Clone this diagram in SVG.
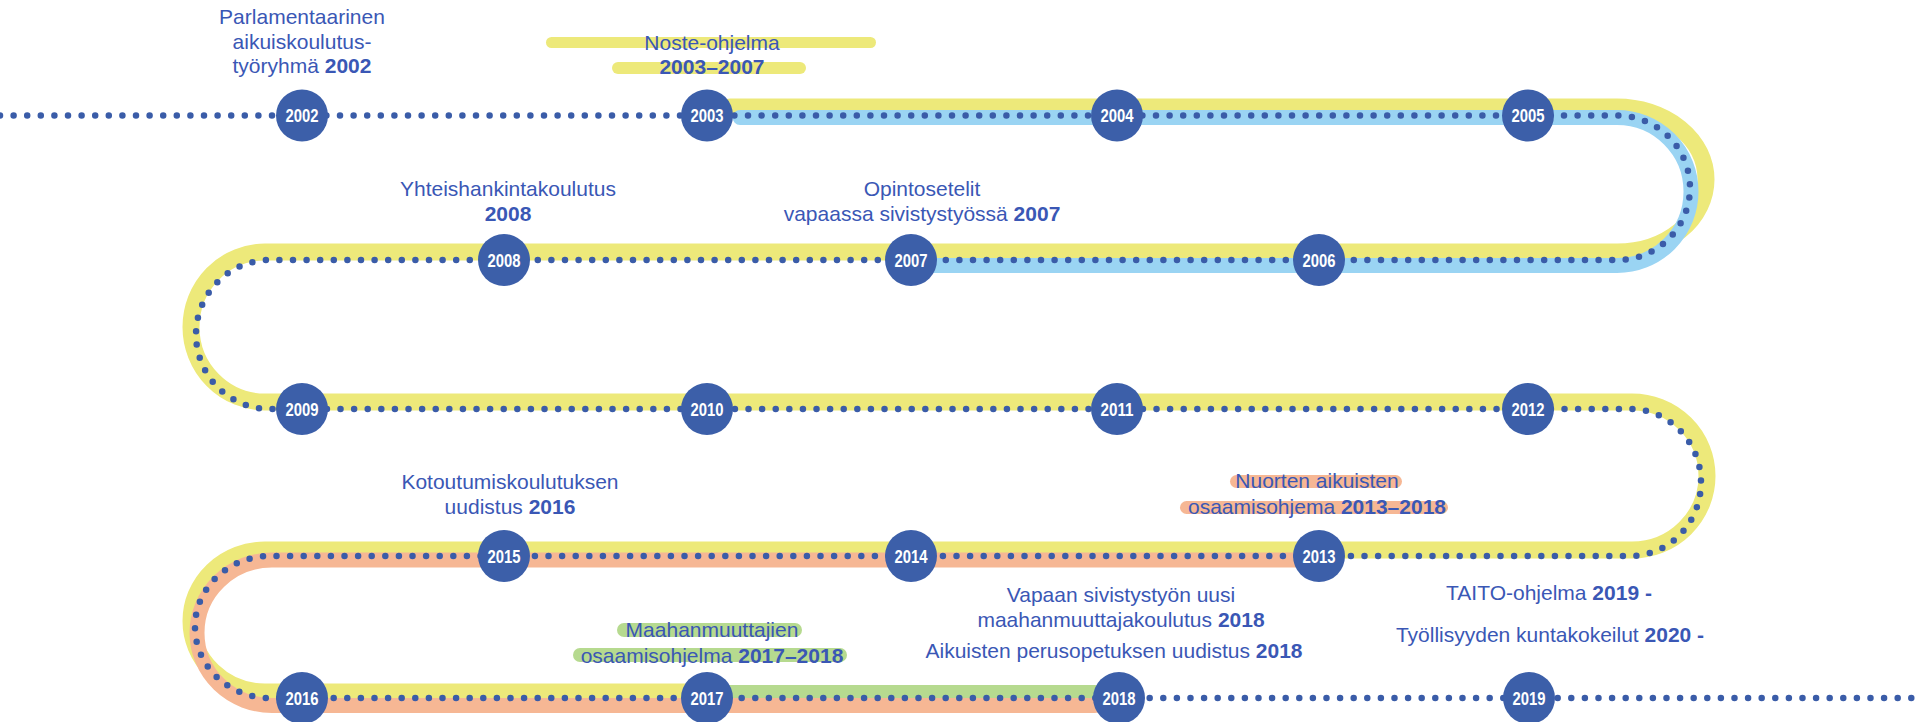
<svg xmlns="http://www.w3.org/2000/svg" width="1915" height="722" viewBox="0 0 1915 722">
<style>
.band{fill:none;stroke-linecap:round;stroke-linejoin:round}
.yel{stroke:#ede97a;stroke-width:17}
.blu{stroke:#9ad4f3;stroke-width:15}
.org{stroke:#f6b794;stroke-width:15}
.grn{stroke:#b6da8f;stroke-width:14}
.dots{fill:none;stroke:#3a5ca8;stroke-width:6.5;stroke-linecap:round;stroke-dasharray:0 13.6}
.node circle{fill:#3c5fa9}
.node text{fill:#ffffff;font-family:"Liberation Sans",Arial,sans-serif;font-weight:bold;font-size:18px;text-anchor:middle}
.lbl{fill:#3a57b5;font-family:"Liberation Sans",Arial,sans-serif;font-size:21px;text-anchor:middle}
.b{font-weight:bold}
.hy{fill:#ede97a}
.ho{fill:#f6b794}
.hg{fill:#b6da8f}
</style>
<rect width="1915" height="722" fill="#ffffff"/>
<g id="connectors">
<path class="band yel" d="M730 107 H1617 A89 72.5 0 0 1 1617 252 H265 A74 75 0 0 0 265 402 H1632 A75 74 0 0 1 1632 550 H265 A74 71 0 0 0 265 692 H708"/>
<path class="band grn" d="M708 692 H1095"/>
<path class="band blu" d="M740 117.5 H1617 A74 74 0 0 1 1617 265.5 H930"/>
<path class="band org" d="M1305 560 H272 A75 72.75 0 0 0 272 705.5 H1095"/>
<path class="dots" d="M0 115.5 H1617 A73 72.25 0 0 1 1617 260 H270 A74 74.5 0 0 0 270 409 H1630 A71 73.5 0 0 1 1630 556 H270 A75 71 0 0 0 270 698 H1915"/>
</g>
<g id="n2002" class="node"><circle cx="302" cy="115.5" r="26"/><text x="302" y="122" textLength="33" lengthAdjust="spacingAndGlyphs">2002</text></g>
<g id="n2003" class="node"><circle cx="707" cy="115.5" r="26"/><text x="707" y="122" textLength="33" lengthAdjust="spacingAndGlyphs">2003</text></g>
<g id="n2004" class="node"><circle cx="1117" cy="115.5" r="26"/><text x="1117" y="122" textLength="33" lengthAdjust="spacingAndGlyphs">2004</text></g>
<g id="n2005" class="node"><circle cx="1528" cy="115.5" r="26"/><text x="1528" y="122" textLength="33" lengthAdjust="spacingAndGlyphs">2005</text></g>
<g id="n2006" class="node"><circle cx="1319" cy="260" r="26"/><text x="1319" y="266.5" textLength="33" lengthAdjust="spacingAndGlyphs">2006</text></g>
<g id="n2007" class="node"><circle cx="911" cy="260" r="26"/><text x="911" y="266.5" textLength="33" lengthAdjust="spacingAndGlyphs">2007</text></g>
<g id="n2008" class="node"><circle cx="504" cy="260" r="26"/><text x="504" y="266.5" textLength="33" lengthAdjust="spacingAndGlyphs">2008</text></g>
<g id="n2009" class="node"><circle cx="302" cy="409" r="26"/><text x="302" y="415.5" textLength="33" lengthAdjust="spacingAndGlyphs">2009</text></g>
<g id="n2010" class="node"><circle cx="707" cy="409" r="26"/><text x="707" y="415.5" textLength="33" lengthAdjust="spacingAndGlyphs">2010</text></g>
<g id="n2011" class="node"><circle cx="1117" cy="409" r="26"/><text x="1117" y="415.5" textLength="33" lengthAdjust="spacingAndGlyphs">2011</text></g>
<g id="n2012" class="node"><circle cx="1528" cy="409" r="26"/><text x="1528" y="415.5" textLength="33" lengthAdjust="spacingAndGlyphs">2012</text></g>
<g id="n2013" class="node"><circle cx="1319" cy="556" r="26"/><text x="1319" y="562.5" textLength="33" lengthAdjust="spacingAndGlyphs">2013</text></g>
<g id="n2014" class="node"><circle cx="911" cy="556" r="26"/><text x="911" y="562.5" textLength="33" lengthAdjust="spacingAndGlyphs">2014</text></g>
<g id="n2015" class="node"><circle cx="504" cy="556" r="26"/><text x="504" y="562.5" textLength="33" lengthAdjust="spacingAndGlyphs">2015</text></g>
<g id="n2016" class="node"><circle cx="302" cy="698" r="26"/><text x="302" y="704.5" textLength="33" lengthAdjust="spacingAndGlyphs">2016</text></g>
<g id="n2017" class="node"><circle cx="707" cy="698" r="26"/><text x="707" y="704.5" textLength="33" lengthAdjust="spacingAndGlyphs">2017</text></g>
<g id="n2018" class="node"><circle cx="1119" cy="698" r="26"/><text x="1119" y="704.5" textLength="33" lengthAdjust="spacingAndGlyphs">2018</text></g>
<g id="n2019" class="node"><circle cx="1529" cy="698" r="26"/><text x="1529" y="704.5" textLength="33" lengthAdjust="spacingAndGlyphs">2019</text></g>
<g id="lbl-parlamentaarinen">
<text class="lbl" x="302" y="24">Parlamentaarinen</text>
<text class="lbl" x="302" y="48.5">aikuiskoulutus-</text>
<text class="lbl" x="302" y="73">työryhmä <tspan class="b">2002</tspan></text>
</g>
<g id="lbl-noste">
<rect class="hy" x="546" y="37" width="330" height="11" rx="5.5"/>
<rect class="hy" x="612" y="62" width="194" height="12" rx="6"/>
<text class="lbl" x="712" y="50">Noste-ohjelma</text>
<text class="lbl b" x="712" y="74">2003–2007</text>
</g>
<g id="lbl-yhteishankinta">
<text class="lbl" x="508" y="196">Yhteishankintakoulutus</text>
<text class="lbl b" x="508" y="221">2008</text>
</g>
<g id="lbl-opintosetelit">
<text class="lbl" x="922" y="196">Opintosetelit</text>
<text class="lbl" x="922" y="221">vapaassa sivistystyössä <tspan class="b">2007</tspan></text>
</g>
<g id="lbl-kotoutuminen">
<text class="lbl" x="510" y="489">Kotoutumiskoulutuksen</text>
<text class="lbl" x="510" y="514">uudistus <tspan class="b">2016</tspan></text>
</g>
<g id="lbl-nuorten">
<rect class="ho" x="1230" y="475" width="172" height="13" rx="6.5"/>
<rect class="ho" x="1180" y="501" width="268" height="13" rx="6.5"/>
<text class="lbl" x="1317" y="488">Nuorten aikuisten</text>
<text class="lbl" x="1317" y="514">osaamisohjema <tspan class="b">2013–2018</tspan></text>
</g>
<g id="lbl-vapaan">
<text class="lbl" x="1121" y="602">Vapaan sivistystyön uusi</text>
<text class="lbl" x="1121" y="627">maahanmuuttajakoulutus <tspan class="b">2018</tspan></text>
</g>
<g id="lbl-aikuisten">
<text class="lbl" x="1114" y="658">Aikuisten perusopetuksen uudistus <tspan class="b">2018</tspan></text>
</g>
<g id="lbl-taito">
<text class="lbl" x="1549" y="600">TAITO-ohjelma <tspan class="b">2019 -</tspan></text>
</g>
<g id="lbl-tyollisyys">
<text class="lbl" x="1550" y="642">Työllisyyden kuntakokeilut <tspan class="b">2020 -</tspan></text>
</g>
<g id="lbl-maahanmuuttajien">
<rect class="hg" x="617" y="623" width="185" height="14" rx="7"/>
<rect class="hg" x="573" y="648" width="274" height="14" rx="7"/>
<text class="lbl" x="712" y="637">Maahanmuuttajien</text>
<text class="lbl" x="712" y="663">osaamisohjelma <tspan class="b">2017–2018</tspan></text>
</g>
</svg>
